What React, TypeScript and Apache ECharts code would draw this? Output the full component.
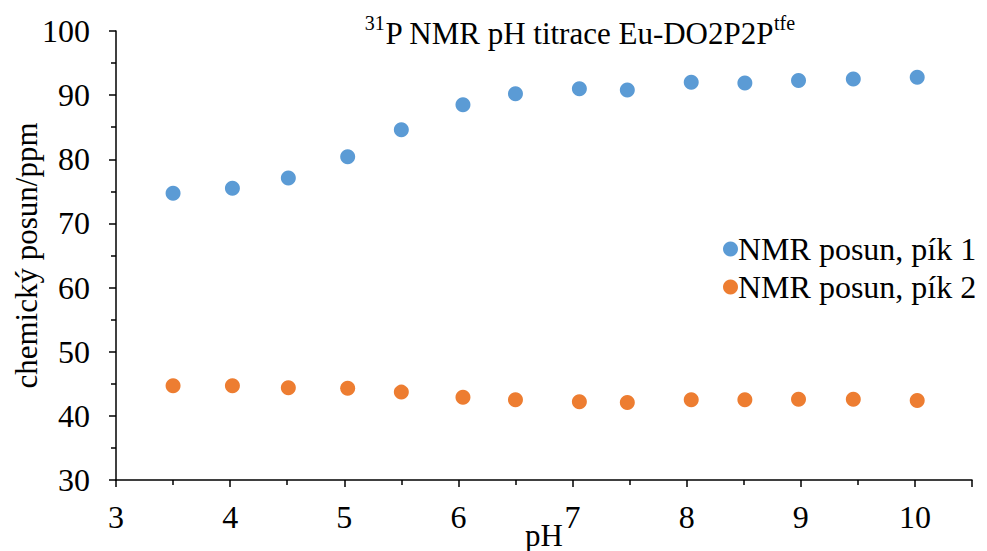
import React, { useEffect, useRef } from "react";
import * as echarts from "echarts";

const pH = [3.5, 4.02, 4.51, 5.03, 5.5, 6.04, 6.5, 7.06, 7.48, 8.04, 8.51, 8.98, 9.46, 10.02];
const peak1 = [74.7, 75.5, 77.1, 80.4, 84.6, 88.5, 90.2, 91.0, 90.8, 92.0, 91.9, 92.3, 92.5, 92.8];
const peak2 = [44.7, 44.7, 44.4, 44.3, 43.7, 42.9, 42.5, 42.2, 42.1, 42.5, 42.5, 42.6, 42.6, 42.4];
const seriesNames = ["NMR posun, pík 1", "NMR posun, pík 2"];
const titleMain = "P NMR pH titrace Eu-DO2P2P";
const titlePre = "31";
const titleSup = "tfe";
const xName = "pH";
const yName = "chemický posun/ppm";

const FONT = "Liberation Serif";

export default function App() {
  const ref = useRef<HTMLDivElement>(null);
  useEffect(() => {
    if (!ref.current) return;
    const chart = echarts.init(ref.current, null, { renderer: "svg" });
    const axisLine = { show: true, lineStyle: { color: "#000", width: 1.5 } };
    chart.setOption({
      animation: false,
      backgroundColor: "#fff",
      textStyle: { fontFamily: FONT, color: "#000" },
      title: {
        text: `{sup|${titlePre}}{m|${titleMain}}{sup|${titleSup}}`,
        left: 575,
        top: 8,
        textAlign: "center",
        textStyle: {
          fontWeight: "normal",
          rich: {
            m: { fontFamily: FONT, fontSize: 31, fontWeight: "normal", color: "#000", lineHeight: 36, verticalAlign: "bottom" },
            sup: { fontFamily: FONT, fontSize: 20, fontWeight: "normal", color: "#000", lineHeight: 36, verticalAlign: "top" },
          },
        },
      },
      legend: {
        orient: "vertical",
        left: 718,
        top: 228,
        itemWidth: 15,
        itemHeight: 15,
        itemGap: 6,
        icon: "circle",
        textStyle: { fontFamily: FONT, fontSize: 32, color: "#000", padding: [0, 0, 0, -5] },
        data: seriesNames,
      },
      grid: { left: 116, right: 15, top: 31, bottom: 71, containLabel: false, outerBoundsMode: "none" },
      xAxis: {
        type: "value",
        min: 3,
        max: 10.5,
        interval: 1,
        name: xName,
        nameLocation: "middle",
        nameGap: 40,
        nameMoveOverlap: false,
        nameTextStyle: { fontFamily: FONT, fontSize: 31, color: "#000" },
        axisLine,
        axisTick: { show: true, inside: false, length: 7, lineStyle: { color: "#000", width: 1.5 } },
        minorTick: { show: true, splitNumber: 2, length: 5, lineStyle: { color: "#000", width: 1.5 } },
        axisLabel: {
          fontFamily: FONT,
          fontSize: 32,
          color: "#000",
          margin: 21,
          showMaxLabel: false,
          formatter: (v: number) => (Number.isInteger(v) ? String(v) : ""),
        },
        splitLine: { show: false },
      },
      yAxis: {
        type: "value",
        min: 30,
        max: 100,
        interval: 10,
        name: yName,
        nameLocation: "middle",
        nameGap: 74,
        nameMoveOverlap: false,
        nameTextStyle: { fontFamily: FONT, fontSize: 31, color: "#000" },
        axisLine,
        axisTick: { show: true, inside: false, length: 7, lineStyle: { color: "#000", width: 1.5 } },
        minorTick: { show: true, splitNumber: 2, length: 5, lineStyle: { color: "#000", width: 1.5 } },
        axisLabel: { fontFamily: FONT, fontSize: 32, color: "#000", margin: 26 },
        splitLine: { show: false },
      },
      series: [
        {
          name: seriesNames[0],
          type: "scatter",
          symbol: "circle",
          symbolSize: 15,
          itemStyle: { color: "#5B9BD5", opacity: 1 },
          data: pH.map((x, i) => [x, peak1[i]]),
        },
        {
          name: seriesNames[1],
          type: "scatter",
          symbol: "circle",
          symbolSize: 15,
          itemStyle: { color: "#ED7D31", opacity: 1 },
          data: pH.map((x, i) => [x, peak2[i]]),
        },
      ],
    });
    return () => chart.dispose();
  }, []);
  return <div ref={ref} style={{ width: 987, height: 551, position: "absolute", left: 0, top: 0 }} />;
}
